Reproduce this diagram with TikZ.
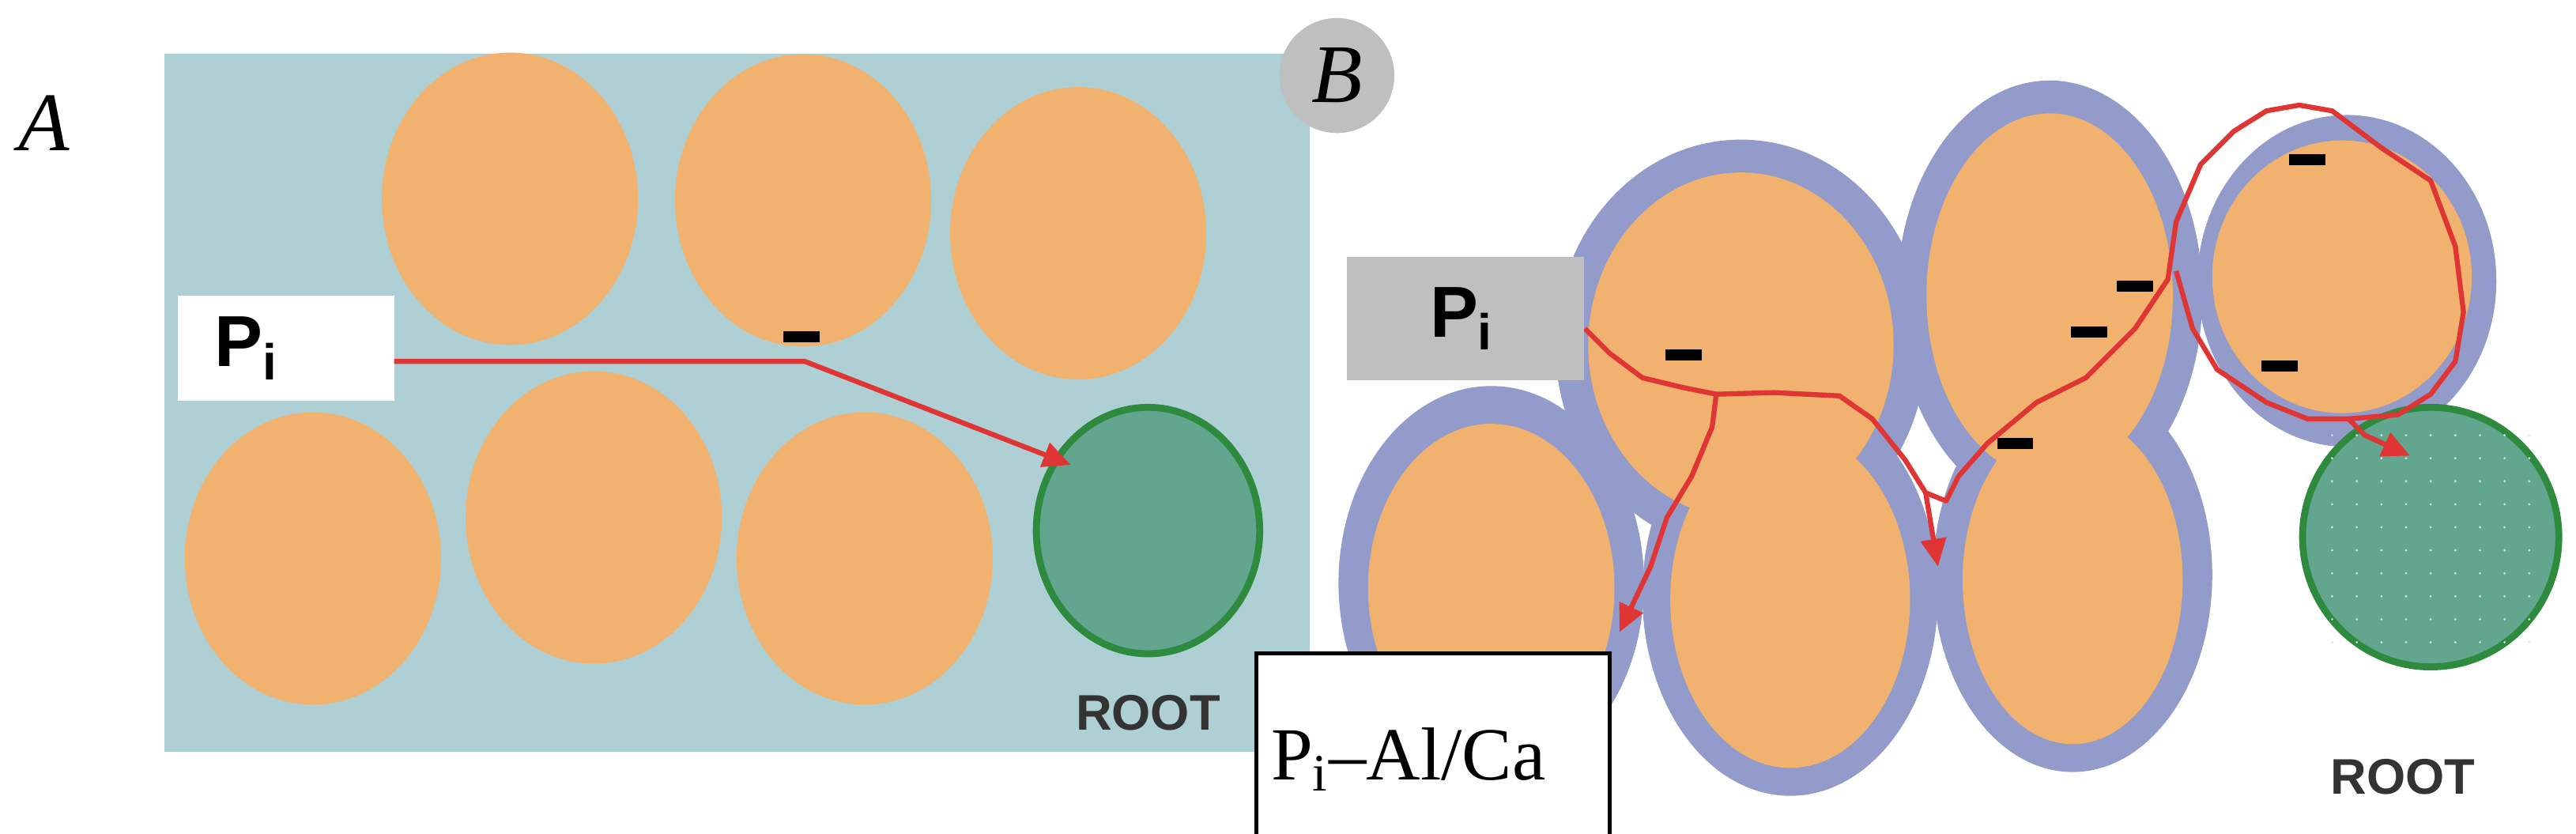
\documentclass[tikz,border=0pt]{standalone}
\usepackage{fontspec}
\setmainfont{Liberation Serif}
\newfontfamily\sans{Liberation Sans}
\usetikzlibrary{arrows.meta}
\definecolor{bg}{HTML}{AECFD4}
\definecolor{cell}{HTML}{F0B26E}
\definecolor{rim}{HTML}{939BCB}
\definecolor{rootf}{HTML}{62A690}
\definecolor{rootd}{HTML}{2E8B3E}
\definecolor{pred}{HTML}{E03535}
\tikzset{x=0.01039cm,y=-0.01039cm,
 path/.style={pred,line width=1.8pt,-{Triangle[length=10pt,width=9pt]}},
 minus/.style={fill=black,minimum width=13pt,minimum height=4pt,inner sep=0pt},
 rootlab/.style={font=\sans\bfseries\fontsize{18}{18}\selectfont,text=black!80},
 pilab/.style={font=\sans\bfseries\fontsize{26}{26}\selectfont}}
\begin{document}
\begin{tikzpicture}
\useasboundingbox (0,0) rectangle (3137,1015);
% Panel A
\fill[bg] (200,65) rectangle (1595,915);
\foreach \x/\y in {621/242,978/244,1313/284,381/680,723/630,1053/680}
  \fill[cell] (\x,\y) ellipse [x radius=156, y radius=178];
\draw[rootd,line width=2.5pt,fill=rootf] (1398,646) ellipse [x radius=136, y radius=150];
\node[rootlab] (rA) at (1398,868) {ROOT};
\node[fill=white,minimum width=2.74cm,minimum height=1.33cm,inner sep=0pt] (piA) at (348,424) {};
\node[pilab] at (300,424) {P\textsubscript{i}};
\coordinate (startA) at (480,440);
\coordinate (bend) at (980,440);
\coordinate (rootA) at (1304,566);
\draw[path] (startA) -- (bend) -- (rootA);
\node[minus] at (976,410) {};
\node[font=\itshape\fontsize{30}{30}\selectfont] (A) at (54,150) {A};
\fill[black!25] (1628,92) circle (70);
\node[font=\itshape\fontsize{30}{30}\selectfont] (B) at (1628,92) {B};
% Panel B cells
\foreach \x/\y/\rx/\ry in {2120/420/226/250, 2496/360/186/262, 2858/342/182/202, 1816/710/186/240, 2180/724/180/245, 2524/700/170/240}
  \fill[rim] (\x,\y) ellipse [x radius=\rx, y radius=\ry];
\foreach \x/\y/\rx/\ry in {2120/420/186/210, 2496/360/150/222, 2852/337/158/166, 1816/716/150/200, 2180/730/146/205, 2524/706/134/200}
  \fill[cell] (\x,\y) ellipse [x radius=\rx, y radius=\ry];
\draw[rootd,line width=2.5pt,fill=rootf] (2960,654) ellipse [x radius=156, y radius=158];
\foreach \i in {0,...,8}\foreach \j in {0,...,9}
  \fill[white!70!rootf] (2840+\i*30,530+\j*28) circle (1.5);
\node[rootlab] (rB) at (2926,946) {ROOT};
% red paths
\coordinate (s) at (1930,400);
\coordinate (j) at (2090,480);
\coordinate (e1) at (1972,770);
\coordinate (e2) at (2360,690);
\coordinate (e3) at (2935,555);
\draw[path] (s) -- (1960,430) -- (2000,460) -- (2050,472) -- (j) -- (2085,520) -- (2060,580) -- (2030,630) -- (2010,690) -- (e1);
\draw[path] (j) -- (2160,478) -- (2240,482) -- (2280,510) -- (2320,560) -- (2345,600) -- (e2);
\draw[pred,line width=1.8pt,line join=round] (2345,600) -- (2370,610) -- (2385,580) -- (2420,540) -- (2480,490) -- (2540,460) -- (2600,400) -- (2640,340) -- (2650,270) -- (2680,200) -- (2720,160) -- (2760,135) -- (2800,128) -- (2840,135) -- (2900,180) -- (2960,220) -- (2990,300) -- (3000,380) -- (2990,440) -- (2960,480) -- (2920,505) -- (2860,510);
\draw[path] (2860,510) -- (2880,530) -- (e3);
\draw[pred,line width=1.8pt,line join=round] (2650,330) -- (2670,400) -- (2700,450) -- (2760,490) -- (2810,510) -- (2860,510);
\foreach \x/\y in {2050/432,2544/404,2600/348,2810/194,2776/446,2454/540}
  \node[minus] at (\x,\y) {};
% boxes
\node[fill=black!25,minimum width=3.0cm,minimum height=1.56cm,inner sep=0pt] (piB) at (1785,388) {};
\node[pilab] at (1780,388) {P\textsubscript{i}};
\node[draw=black,line width=1.5pt,fill=white,minimum width=4.47cm,minimum height=2.58cm,inner sep=0pt] (pal) at (1745,920) {};
\node[font=\fontsize{27}{27}\selectfont] at (1715,925) {P\textsubscript{i}--Al/Ca};
\end{tikzpicture}
\end{document}
